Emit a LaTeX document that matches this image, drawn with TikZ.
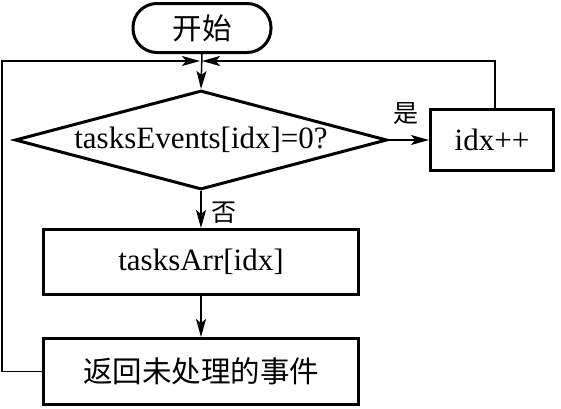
\documentclass[tikz,border=0pt]{standalone}
\usepackage{fontspec}
\setmainfont{Liberation Serif}
\newfontfamily\cjk{Noto Sans CJK SC}
\usetikzlibrary{shapes.geometric,arrows.meta}
\begin{document}
\begin{tikzpicture}[x=1pt,y=-1pt,
  box/.style={draw, line width=3pt, rectangle, inner sep=0pt},
  flow/.style={line width=1.5pt, -{Stealth[length=18pt,width=10pt,inset=4pt]}},
  lbl/.style={font=\cjk\fontsize{25}{25}\selectfont, inner sep=0pt},
  txt/.style={font=\fontsize{31}{31}\selectfont},
  ctxt/.style={font=\cjk\fontsize{29.5}{29.5}\selectfont}]
\useasboundingbox (0,0) rectangle (561,408);

\node[box, rounded corners=24pt, minimum width=138pt, minimum height=49pt, ctxt] (start) at (202,28) {开始};
\node[draw, diamond, line width=3pt, aspect=3.7, inner sep=0pt, minimum width=372pt, minimum height=99pt, txt] (cond) at (201,140) {tasksEvents[idx]=0?};
\node[box, minimum width=123pt, minimum height=61pt, txt] (inc) at (492,140) {idx++};
\node[box, minimum width=315pt, minimum height=65pt, txt] (arr) at (201,262) {tasksArr[idx]};
\node[box, minimum width=315pt, minimum height=66pt, ctxt] (ret) at (201,371.5) {返回未处理的事件};

\node[lbl] (yes) at (406,114) {是};
\node[lbl] (no) at (224,213) {否};

\coordinate (join) at (201,61);
\coordinate (lc) at (2,61);
\coordinate (rc) at (495,61);

\draw[flow] (start.south) -- (cond.north);
\draw[flow] (cond.east) -- (inc.west);
\draw[flow] (cond.south) -- (arr.north);
\draw[flow] (arr.south) -- (ret.north);
\draw[flow] (ret.west) -| (lc) -- ([xshift=-1pt]join);
\draw[flow] (inc.north -| rc) -- (rc) -- ([xshift=1pt]join);
\end{tikzpicture}
\end{document}
